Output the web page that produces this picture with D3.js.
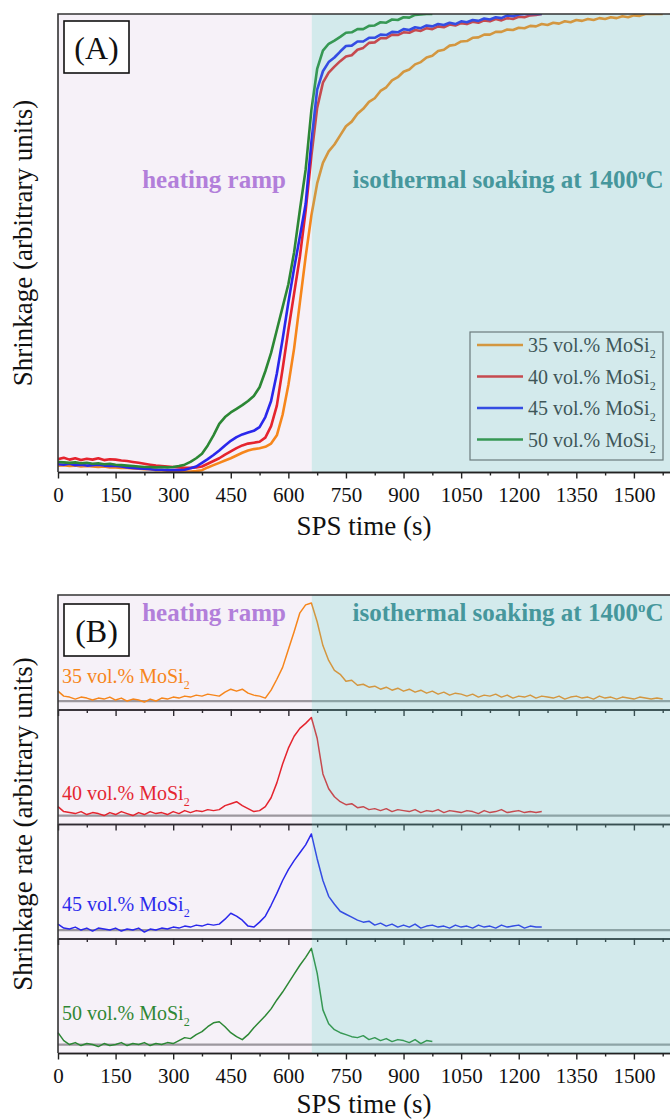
<!DOCTYPE html>
<html>
<head>
<meta charset="utf-8">
<script src="https://cdn.jsdelivr.net/npm/d3@7"></script>
<style>
body { margin: 0; background: #fff; }
svg { display: block; }
svg text { font-family: "Liberation Serif", "Times New Roman", serif; }
</style>
</head>
<body>
<div id="chart"></div>
<script>
var W = 670, H = 1120;
var FONT = '"Liberation Serif", "Times New Roman", serif';

// sampling of the traces (s) and start of the isothermal dwell
var timeStep = 15;
var soakStart = 661;

var xTicks = [0, 150, 300, 450, 600, 750, 900, 1050, 1200, 1350, 1500];
var xMinorTicks = [75, 225, 375, 525, 675, 825, 975, 1125, 1275, 1425, 1575];

var seriesNames = ['35 vol.% MoSi', '40 vol.% MoSi', '45 vol.% MoSi', '50 vol.% MoSi'];
var seriesColors = ['#ff880a', '#ec1b1f', '#1c1ff2', '#1f8a26'];

// (A) shrinkage, normalised, one value every 15 s
var shrink35 = [
	0.014,0.015,0.013,0.014,0.012,0.013,0.012,0.011,0.012,0.010,
	0.010,0.009,0.009,0.008,0.007,0.006,0.006,0.004,0.004,0.003,
	0.002,0.001,0.001,0.001,0.002,0.004,0.010,0.015,0.020,0.025,
	0.030,0.036,0.042,0.047,0.050,0.052,0.055,0.062,0.080,0.125,
	0.190,0.270,0.370,0.470,0.560,0.630,0.675,0.700,0.715,0.735,
	0.755,0.765,0.782,0.793,0.808,0.816,0.832,0.840,0.855,0.862,
	0.874,0.879,0.890,0.895,0.905,0.909,0.919,0.922,0.931,0.933,
	0.940,0.941,0.948,0.949,0.955,0.955,0.961,0.961,0.966,0.965,
	0.970,0.969,0.974,0.973,0.978,0.976,0.981,0.979,0.984,0.982,
	0.987,0.985,0.989,0.987,0.991,0.989,0.993,0.991,0.995,0.993,
	0.997,0.996,1.000,1.000,1.000,1.000
];
var shrink40 = [
	0.028,0.031,0.027,0.030,0.026,0.029,0.027,0.030,0.026,0.028,
	0.027,0.025,0.024,0.022,0.020,0.018,0.016,0.014,0.013,0.012,
	0.011,0.010,0.009,0.009,0.010,0.012,0.018,0.024,0.030,0.038,
	0.045,0.052,0.058,0.062,0.064,0.066,0.075,0.100,0.145,0.225,
	0.310,0.390,0.470,0.570,0.690,0.795,0.850,0.872,0.885,0.897,
	0.907,0.910,0.922,0.926,0.937,0.938,0.947,0.947,0.955,0.954,
	0.960,0.959,0.965,0.963,0.969,0.967,0.973,0.971,0.977,0.975,
	0.980,0.978,0.983,0.981,0.986,0.984,0.989,0.986,0.991,0.989,
	0.994,0.993,0.997,0.998,1.000
];
var shrink45 = [
	0.017,0.016,0.018,0.015,0.016,0.014,0.015,0.016,0.014,0.013,
	0.013,0.012,0.010,0.009,0.008,0.007,0.006,0.005,0.005,0.004,
	0.004,0.004,0.005,0.008,0.012,0.020,0.028,0.037,0.047,0.058,
	0.068,0.076,0.082,0.086,0.090,0.098,0.120,0.155,0.215,0.290,
	0.370,0.445,0.514,0.585,0.720,0.835,0.875,0.895,0.905,0.918,
	0.930,0.931,0.940,0.940,0.948,0.948,0.955,0.954,0.961,0.960,
	0.967,0.965,0.971,0.969,0.975,0.973,0.978,0.976,0.981,0.978,
	0.984,0.982,0.987,0.985,0.990,0.988,0.993,0.991,0.997,0.995,
	0.999,1.000,1.000,1.000,1.000
];
var shrink50 = [
	0.022,0.021,0.020,0.021,0.019,0.020,0.018,0.019,0.017,0.018,
	0.016,0.015,0.014,0.013,0.012,0.011,0.011,0.010,0.011,0.010,
	0.011,0.013,0.016,0.022,0.030,0.040,0.058,0.080,0.105,0.120,
	0.130,0.138,0.146,0.155,0.166,0.185,0.220,0.260,0.310,0.360,
	0.410,0.480,0.572,0.660,0.790,0.880,0.920,0.935,0.942,0.950,
	0.959,0.960,0.967,0.967,0.974,0.975,0.982,0.981,0.988,0.987,
	0.993,0.992,0.998,0.999,1.000,1.000
];

// (B) shrinkage rate, normalised to each peak, one value every 15 s
var rate35 = [
	0.10,0.05,0.04,0.02,0.04,0.03,0.01,0.03,0.02,0.04,
	0.01,0.03,0.00,0.02,0.01,-0.01,0.02,0.00,0.03,0.02,
	0.04,0.03,0.05,0.04,0.06,0.05,0.07,0.06,0.05,0.09,
	0.12,0.10,0.12,0.08,0.06,0.05,0.03,0.11,0.22,0.34,
	0.52,0.70,0.89,0.97,0.99,0.80,0.56,0.41,0.31,0.27,
	0.20,0.21,0.16,0.17,0.14,0.15,0.12,0.14,0.11,0.13,
	0.10,0.12,0.09,0.11,0.08,0.10,0.07,0.09,0.06,0.08,
	0.07,0.05,0.07,0.04,0.06,0.05,0.07,0.04,0.06,0.03,
	0.05,0.04,0.06,0.03,0.05,0.04,0.03,0.05,0.02,0.04,
	0.05,0.03,0.04,0.02,0.05,0.03,0.04,0.02,0.04,0.03,
	0.02,0.04,0.03,0.02,0.03,0.02
];
var rate40 = [
	0.09,0.04,0.03,0.02,0.04,0.01,0.03,0.02,0.00,0.03,
	0.01,0.04,0.02,0.00,0.03,0.01,0.04,0.02,0.03,0.01,
	0.04,0.02,0.05,0.03,0.05,0.04,0.06,0.05,0.06,0.10,
	0.12,0.14,0.10,0.07,0.04,0.05,0.09,0.18,0.33,0.52,
	0.68,0.80,0.88,0.93,0.99,0.78,0.42,0.27,0.19,0.14,
	0.11,0.12,0.08,0.09,0.06,0.07,0.05,0.07,0.04,0.06,
	0.05,0.04,0.06,0.03,0.05,0.04,0.06,0.03,0.05,0.04,
	0.03,0.05,0.04,0.02,0.05,0.03,0.04,0.06,0.03,0.04,
	0.05,0.03,0.04,0.03,0.04
];
var rate45 = [
	0.06,0.02,0.01,0.03,0.00,0.02,-0.01,0.02,0.01,0.00,
	0.02,-0.01,0.01,0.00,0.02,-0.02,0.01,0.00,0.02,0.01,
	0.03,0.02,0.04,0.03,0.05,0.04,0.06,0.05,0.06,0.11,
	0.17,0.14,0.10,0.04,0.03,0.08,0.14,0.25,0.37,0.50,
	0.61,0.70,0.78,0.86,0.97,0.72,0.50,0.34,0.26,0.19,
	0.16,0.13,0.10,0.08,0.09,0.05,0.07,0.04,0.06,0.03,
	0.05,0.03,0.06,0.02,0.04,0.05,0.03,0.04,0.02,0.05,
	0.03,0.04,0.02,0.05,0.03,0.04,0.02,0.05,0.03,0.04,
	0.05,0.02,0.04,0.03,0.03
];
var rate50 = [
	0.12,0.04,0.00,0.02,-0.01,0.01,0.00,-0.02,0.01,-0.01,
	0.00,0.02,-0.01,0.01,0.00,0.02,-0.01,0.01,0.00,0.02,
	0.01,0.04,0.07,0.06,0.10,0.13,0.18,0.22,0.23,0.18,
	0.12,0.08,0.05,0.10,0.17,0.23,0.29,0.36,0.45,0.53,
	0.62,0.71,0.80,0.88,0.97,0.72,0.35,0.21,0.15,0.12,
	0.10,0.08,0.07,0.09,0.05,0.07,0.04,0.06,0.03,0.05,
	0.04,0.02,0.05,0.01,0.04,0.03
];

var shrinkSeries = [shrink35, shrink40, shrink45, shrink50];
var rateSeries = [rate35, rate40, rate45, rate50];

var svg = d3.select('#chart').append('svg')
	.attr('width', W)
	.attr('height', H)
	.attr('font-family', FONT);

var x = d3.scaleLinear().domain([0, 1594]).range([58, 670]);

var panelA = {top: 14, bottom: 472};
var panelB = {top: 595, bottom: 1053};

/**
 * Draws the two translucent zones (heating ramp / isothermal soaking)
 */
var drawShading = function(g, top, bottom) {
	g.append('rect')
		.attr('x', x(0)).attr('y', top)
		.attr('width', x(soakStart) - x(0)).attr('height', bottom - top)
		.attr('fill', 'rgb(165,115,185)').attr('fill-opacity', 0.1);
	g.append('rect')
		.attr('x', x(soakStart)).attr('y', top)
		.attr('width', W - x(soakStart)).attr('height', bottom - top)
		.attr('fill', 'rgb(108,185,192)').attr('fill-opacity', 0.3);
};

/**
 * Bottom axis with major + minor ticks
 */
var drawXAxis = function(g, y, withLabels) {
	var minor = g.append('g').attr('transform', 'translate(0,' + y + ')')
		.call(d3.axisBottom(x).tickValues(xMinorTicks).tickSize(3.5).tickSizeOuter(0).tickFormat(''));
	var major = g.append('g').attr('transform', 'translate(0,' + y + ')')
		.call(d3.axisBottom(x).tickValues(xTicks).tickSize(6.5).tickSizeOuter(0).tickFormat(withLabels ? d3.format('d') : ''));
	[minor, major].forEach(function(a) {
		a.attr('font-family', FONT);
		a.select('.domain').attr('stroke', '#222').attr('stroke-width', 1.6);
		a.selectAll('.tick line').attr('stroke', '#222').attr('stroke-width', 1.4);
	});
	major.selectAll('.tick text')
		.attr('y', 30).attr('dy', 0)
		.attr('fill', '#111')
		.attr('font-family', FONT)
		.attr('font-size', 21);
};

var addZoneLabels = function(g, baseline) {
	g.append('text')
		.attr('x', 214).attr('y', baseline)
		.attr('text-anchor', 'middle')
		.attr('fill', '#b27fda')
		.attr('font-family', FONT)
		.attr('font-weight', 'bold').attr('font-size', 25)
		.text('heating ramp');
	var t = g.append('text')
		.attr('x', 508).attr('y', baseline)
		.attr('text-anchor', 'middle')
		.attr('fill', '#46979c')
		.attr('font-family', FONT)
		.attr('font-weight', 'bold').attr('font-size', 25);
	t.append('tspan').text('isothermal soaking at 1400');
	t.append('tspan').attr('dy', -9).attr('font-size', 15).text('o');
	t.append('tspan').attr('dy', 9).text('C');
};

var addPanelTag = function(g, top, label) {
	g.append('rect')
		.attr('x', 64).attr('y', top)
		.attr('width', 65).attr('height', 52)
		.attr('fill', '#fff').attr('stroke', '#111').attr('stroke-width', 1.6);
	g.append('text')
		.attr('x', 96.5).attr('y', top + 38)
		.attr('text-anchor', 'middle')
		.attr('fill', '#111')
		.attr('font-family', FONT)
		.attr('font-size', 32)
		.text(label);
};

var addSubscriptLabel = function(g, xPos, yPos, name, color, size) {
	var t = g.append('text')
		.attr('x', xPos).attr('y', yPos)
		.attr('fill', color)
		.attr('font-family', FONT)
		.attr('font-size', size);
	t.append('tspan').text(name);
	t.append('tspan').attr('dy', 6).attr('font-size', Math.round(size * 0.62)).text('2');
};

var addTitle = function(g, transform, label) {
	g.append('text')
		.attr('transform', transform)
		.attr('text-anchor', 'middle').attr('fill', '#111')
		.attr('font-family', FONT)
		.attr('font-size', 27)
		.text(label);
};

// ---------------- Panel A ----------------
var gA = svg.append('g');
var yA = d3.scaleLinear().domain([0, 1]).range([panelA.bottom, panelA.top]);

svg.append('clipPath').attr('id', 'clipA').append('rect')
	.attr('x', x(0)).attr('y', panelA.top)
	.attr('width', W - x(0)).attr('height', panelA.bottom - panelA.top);

var lineA = d3.line()
	.x(function(d, i) { return x(i * timeStep); })
	.y(function(d) { return yA(d); });

gA.append('g').attr('clip-path', 'url(#clipA)')
	.selectAll('path').data(shrinkSeries).enter().append('path')
	.attr('d', lineA)
	.attr('fill', 'none')
	.attr('stroke', function(d, i) { return seriesColors[i]; })
	.attr('stroke-width', 2.6)
	.attr('stroke-linejoin', 'round');

// legend
var legend = {x: 470, y: 332, w: 193, h: 128, row: 31.5};
var legendRows = gA.selectAll('.legendRow').data(seriesNames).enter().append('g')
	.attr('class', 'legendRow')
	.attr('transform', function(d, i) { return 'translate(0,' + (legend.y + 13 + i * legend.row) + ')'; });
legendRows.append('line')
	.attr('x1', 477).attr('x2', 523)
	.attr('stroke', function(d, i) { return seriesColors[i]; })
	.attr('stroke-width', 2.4);

drawShading(gA, panelA.top, panelA.bottom);

gA.append('rect')
	.attr('x', legend.x).attr('y', legend.y)
	.attr('width', legend.w).attr('height', legend.h)
	.attr('fill', 'none').attr('stroke', '#6c7b7d').attr('stroke-width', 1.2);
legendRows.each(function(d) {
	addSubscriptLabel(d3.select(this), 528, 7, d, '#2b2b2b', 20);
});

gA.append('path')
	.attr('d', 'M' + x(0) + ',' + panelA.bottom + 'V' + panelA.top + 'H' + (W + 2))
	.attr('fill', 'none').attr('stroke', '#333').attr('stroke-width', 1.6);
drawXAxis(gA, panelA.bottom, true);

addZoneLabels(gA, 188);
addPanelTag(gA, 21, '(A)');

addTitle(gA, 'translate(32,' + (panelA.top + panelA.bottom) / 2 + ') rotate(-90)', 'Shrinkage (arbitrary units)');
addTitle(gA, 'translate(364,535)', 'SPS time (s)');

// ---------------- Panel B ----------------
var gB = svg.append('g');
var subH = (panelB.bottom - panelB.top) / rateSeries.length;
var yB = d3.scaleLinear().domain([-0.085, 1.07]).range([subH, 0]);
var subLabelY = [88, 90.5, 86.5, 81.5];

var lineB = d3.line()
	.x(function(d, i) { return x(i * timeStep); })
	.y(function(d) { return yB(d); });

var subs = gB.selectAll('.sub').data(rateSeries).enter().append('g')
	.attr('class', 'sub')
	.attr('transform', function(d, i) { return 'translate(0,' + (panelB.top + i * subH) + ')'; });

subs.append('line')
	.attr('x1', x(0)).attr('x2', W)
	.attr('y1', yB(0)).attr('y2', yB(0))
	.attr('stroke', '#9b9b9b').attr('stroke-width', 2.2);

subs.append('path')
	.attr('d', lineB)
	.attr('fill', 'none')
	.attr('stroke', function(d, i) { return seriesColors[i]; })
	.attr('stroke-width', 1.5)
	.attr('stroke-linejoin', 'round');

drawShading(gB, panelB.top, panelB.bottom);

subs.each(function(d, i) {
	drawXAxis(d3.select(this), subH, i === rateSeries.length - 1);
	addSubscriptLabel(d3.select(this), 62, subLabelY[i], seriesNames[i], seriesColors[i], 20);
});

gB.append('path')
	.attr('d', 'M' + x(0) + ',' + panelB.bottom + 'V' + panelB.top + 'H' + (W + 2))
	.attr('fill', 'none').attr('stroke', '#333').attr('stroke-width', 1.6);

addZoneLabels(gB, 621);
addPanelTag(gB, 604, '(B)');

addTitle(gB, 'translate(32,' + (panelB.top + panelB.bottom) / 2 + ') rotate(-90)', 'Shrinkage rate (arbitrary units)');
addTitle(gB, 'translate(364,1113)', 'SPS time (s)');
</script>
</body>
</html>
